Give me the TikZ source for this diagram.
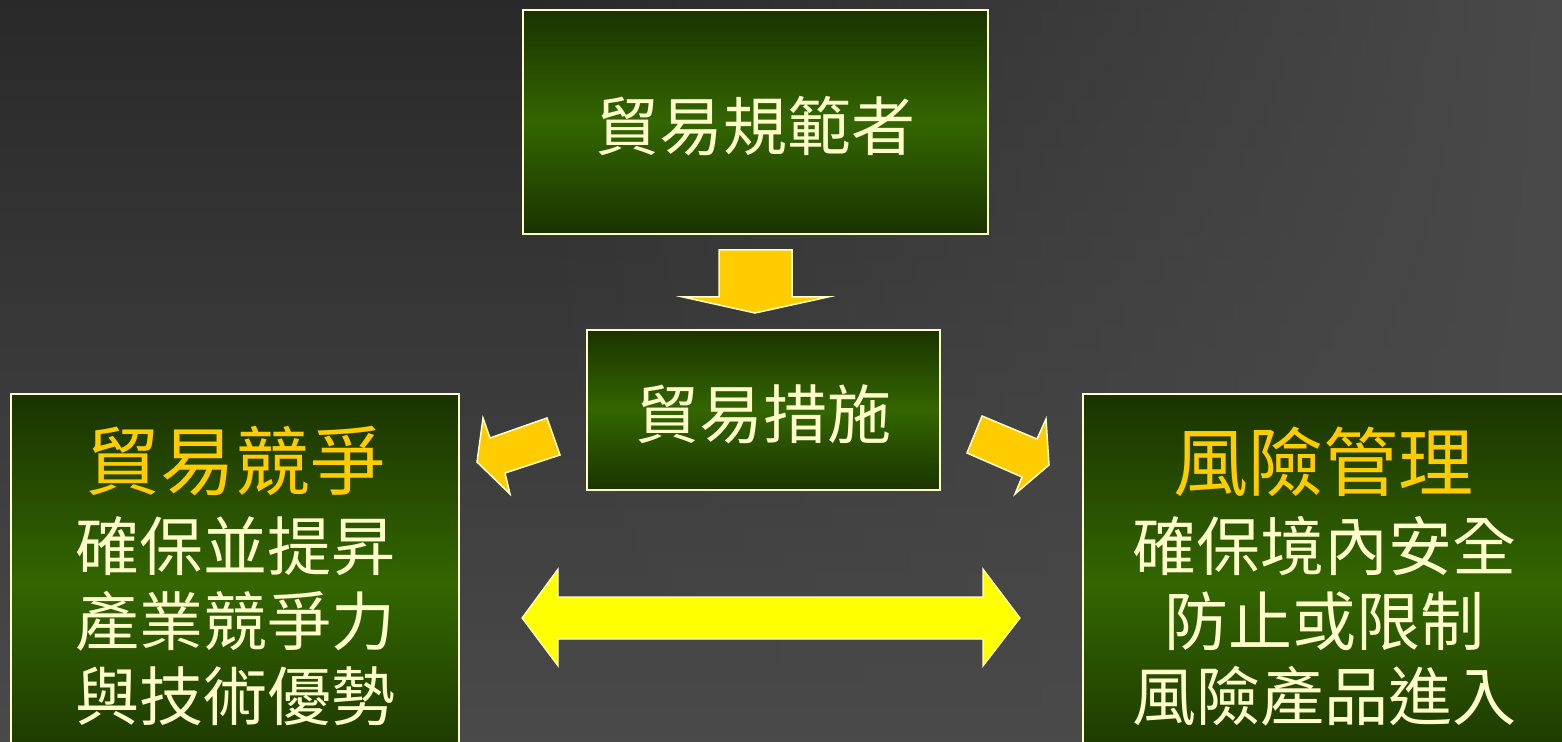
\documentclass[tikz,border=0pt]{standalone}
\usepackage{fontspec}
\usetikzlibrary{fadings}
\newfontfamily\cjk{Noto Sans CJK TC}
\definecolor{bgdark}{HTML}{292929}
\definecolor{bglight}{HTML}{4A4A4A}
\definecolor{gdark}{HTML}{1A3300}
\definecolor{gmid}{HTML}{336600}
\definecolor{cream}{HTML}{FFFFCC}
\definecolor{gold}{HTML}{FFCC00}
\definecolor{yel}{HTML}{FFFF00}
\tikzfading[name=fadein, left color=transparent!100, middle color=transparent!35, right color=transparent!0]
\tikzset{
  box/.style={draw=cream, line width=0.75pt, top color=gdark, bottom color=gdark, middle color=gmid, inner sep=0pt},
  body/.style={text=cream, font=\cjk\fontsize{32}{36}\selectfont, inner sep=0pt},
  title/.style={text=gold, font=\cjk\fontsize{37.5}{42}\selectfont, inner sep=0pt},
  blockarrow/.style={fill=gold, draw=cream, line width=0.75pt, line join=miter},
  dblarrow/.style={fill=yel, draw=cream, line width=0.6pt, line join=miter}
}
\begin{document}
\begin{tikzpicture}[x=0.5pt,y=-0.5pt]
\useasboundingbox (0,0) rectangle (1562,742);
\clip (0,0) rectangle (1562,742);
% background
\shade[top color=bgdark, bottom color=bglight] (0,0) rectangle (1562,742);
\fill[bglight, path fading=fadein] (520,0) rectangle (1562,742);
% boxes
\node[box, minimum width=232.5pt, minimum height=112pt] (top) at (755.5,122) {};
\node[body] (toptxt) at (755.5,126) {貿易規範者};
\node[box, minimum width=176.5pt, minimum height=80pt] (mid) at (763.5,410) {};
\node[body] (midtxt) at (763.5,414) {貿易措施};
\node[box, minimum width=224pt, minimum height=190.5pt] (left) at (235,584.5) {};
\node[box, minimum width=246pt, minimum height=190.5pt] (right) at (1329,584.5) {};
% left texts
\node[title] (lt) at (235,461) {貿易競爭};
\node[body] (l1) at (235,546) {確保並提昇};
\node[body] (l2) at (235,621) {產業競爭力};
\node[body] (l3) at (235,696) {與技術優勢};
% right texts
\node[title] (rt) at (1323,462) {風險管理};
\node[body] (r1) at (1324,546) {確保境內安全};
\node[body] (r2) at (1324,621) {防止或限制};
\node[body] (r3) at (1324,696) {風險產品進入};
% down arrow
\draw[blockarrow] (719,250) -- (792,250) -- (792,297) -- (828,297) -- (755,313) -- (683,297) -- (719,297) -- cycle;
% left arrow
\draw[blockarrow] (547,418) -- (560,455) -- (505,473) -- (510,494) -- (477,462) -- (483,418) -- (490,438) -- cycle;
% right arrow
\draw[blockarrow] (982,416) -- (1037,439) -- (1046,419) -- (1049,465) -- (1015,494) -- (1022,477) -- (967,453) -- cycle;
% double arrow
\draw[dblarrow] (522,618) -- (558,569) -- (558,597) -- (983,597) -- (983,569) -- (1020,618) -- (983,666) -- (983,639) -- (558,639) -- (558,666) -- cycle;
\end{tikzpicture}
\end{document}
